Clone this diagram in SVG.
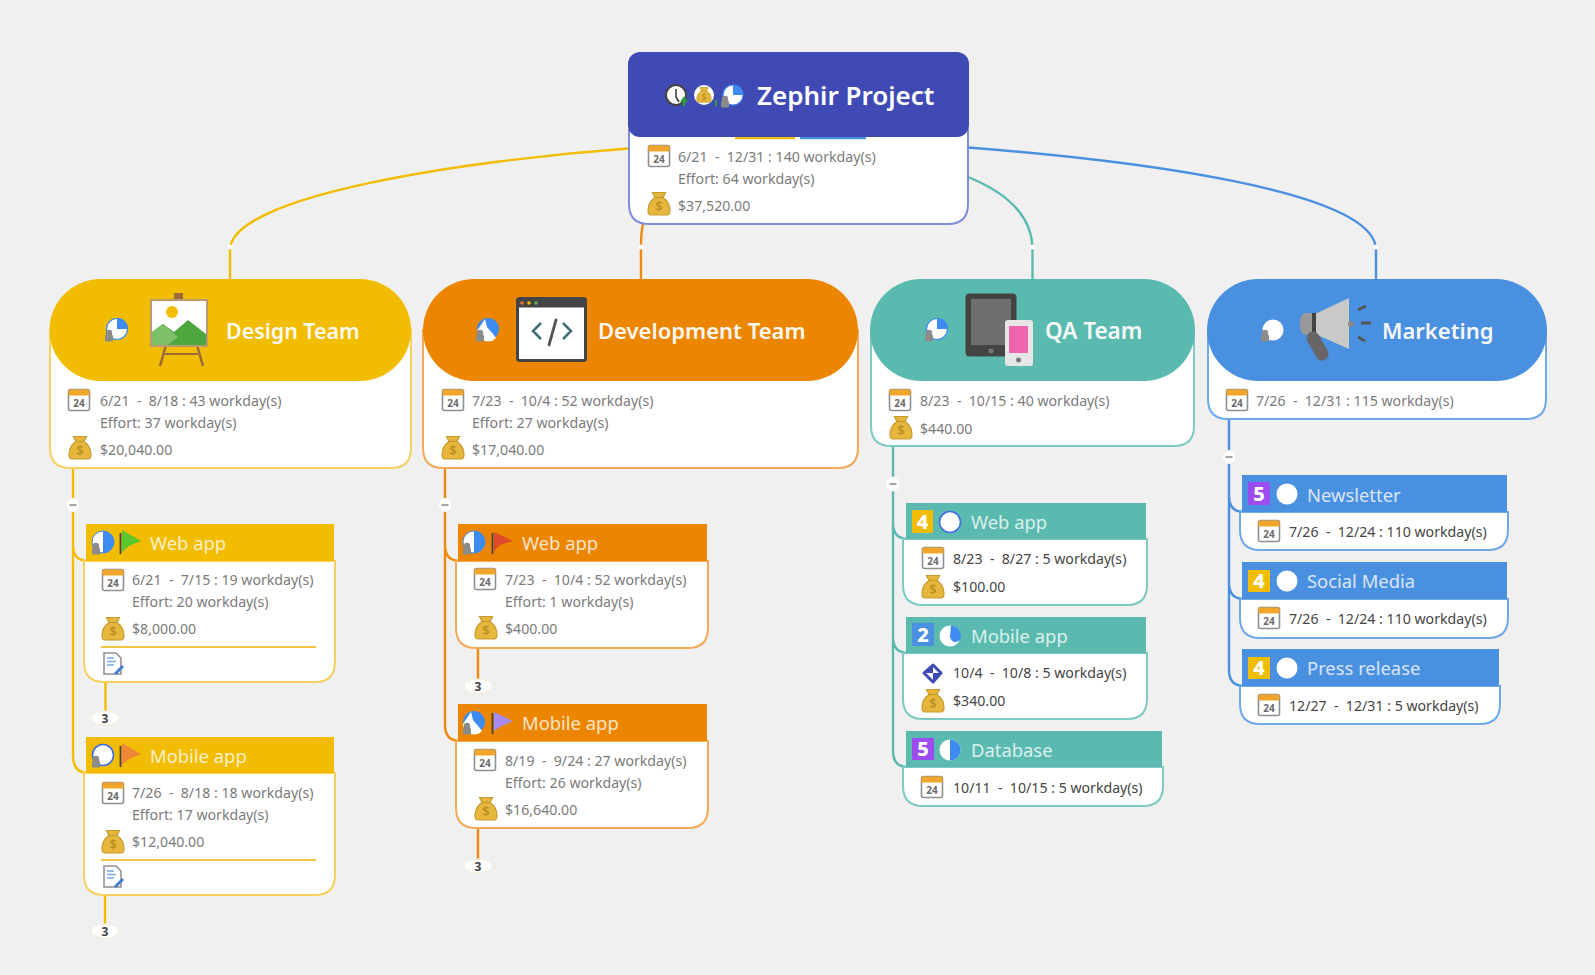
<svg xmlns="http://www.w3.org/2000/svg" width="1595" height="975" viewBox="0 0 1595 975">
<style>
text{font-family:"Noto Sans","Open Sans","Liberation Sans",sans-serif}
.t{font-size:14.15px;fill:#7b7b7b}
.d{font-size:14.15px;fill:#454545}
.hd{font-size:18.4px;fill:#fff;opacity:.78}
.big{font-size:22px;font-weight:600;fill:#fff;opacity:.95}
.cy{stroke:#F2BC00}.co{stroke:#EE8A0C}.ct{stroke:#5BBAB0}.cb{stroke:#4A90E0}
.ln{fill:none;stroke-width:2.4}
.by{fill:#fff;stroke:#F7D060;stroke-width:2}
.bo{fill:#fff;stroke:#F2A95A;stroke-width:2}
.bt{fill:#fff;stroke:#7CCAC1;stroke-width:2}
.bb{fill:#fff;stroke:#6FAAE8;stroke-width:2}
.bi{fill:#fff;stroke:#7F8ED8;stroke-width:2}
.fy{fill:#F2BC00}.fo{fill:#EC8600}.ft{fill:#5BBAB0}.fb{fill:#4A90E0}
.bub{fill:#fff;stroke:#f6efd8;stroke-width:1}
.n{font-size:12px;font-weight:700;fill:#444;text-anchor:middle}
.bn{font-size:20px;font-weight:800;fill:#fff;text-anchor:middle}
</style>
<defs>
<g id="cal"><rect x="-10.5" y="-10.5" width="21" height="21" rx="2" fill="#fff" stroke="#8f8f8f" stroke-width="1.6"/><path d="M-10.5,-10.5h21v6h-21z" fill="#EFA62A"/><text y="7" text-anchor="middle" font-size="10" font-weight="700" fill="#6b6b6b">24</text></g>
<g id="bag"><path d="M-6.5,-11.5h13l-2.5,5c5,3.5 7,8 7,13 0,2.500 -1,4.500 -3,4.500h-16c-2,0 -3,-2 -3,-4.500 0,-5 2,-9.500 7,-13z" fill="#E7B63C" stroke="#C59A2C" stroke-width="1.200"/><path d="M-4,-6.500h8" stroke="#C59A2C" stroke-width="1.200"/><text y="7" text-anchor="middle" font-size="13" font-weight="600" fill="#B98F25">$</text></g>
<g id="doc"><path d="M-9,-11h12l5,5v16h-17z" fill="#fff" stroke="#8f8f8f" stroke-width="1.500"/><path d="M-6,-6h7M-6,-2.500h9M-6,1h7" stroke="#7AA7DE" stroke-width="1.500"/><path d="M2,10l8,-8" stroke="#3F7FD0" stroke-width="3"/></g>
<g id="lock"><rect x="-4" y="-2" width="8" height="6.500" rx="1" fill="#8b8b8b"/><path d="M-2.500,-2v-2a2.500,2.500 0 0 1 5,0v2z" fill="#8b8b8b" stroke="#8b8b8b" stroke-width="1.300"/></g>
<circle id="disc" r="10.500" fill="#fff"/>
<g id="p-half"><circle r="11" fill="#fff" stroke="#3D8BF0" stroke-width="1"/><path d="M0,-11A11,11 0 0 1 0,11z" fill="#3D8BF0"/></g>
<g id="p-ring"><circle r="10.500" fill="#fff" stroke="#3D6FE0" stroke-width="1.600"/></g>
<g id="p-quarter"><circle r="10.500" fill="#fff" stroke="#3D8BF0" stroke-width="1.200"/><path d="M0,0V-11A11,11 0 0 1 11,0z" fill="#3D8BF0"/></g>
<g id="p-dev"><circle r="11" fill="#3D8BF0"/><path d="M-3,-10l2,8 6,7 3,4A11,11 0 0 1 -11,2z" fill="#fff"/></g>
<g id="p-two"><circle r="10.500" fill="#fff"/><path d="M1,-10.500A10.500,10.500 0 0 1 10.500,3C6,9 0,5 0,0z" fill="#3D8BF0"/></g>
<g id="p-five"><circle r="10.500" fill="#fff"/><path d="M0,-10.500A10.500,10.500 0 0 1 0,10.500z" fill="#3D8BF0"/></g>
<path id="flag" d="M0,-10V11" stroke="#444" stroke-width="1.800"/>
</defs>
<rect width="1595" height="975" fill="#F0F0F0"/>

<g id="connectors">
<path class="ln cy" d="M628,148.500C470,160 230,195 230,250V279"/>
<path class="ln co" d="M643,224C641,232 641,240 641,247V279"/>
<path class="ln ct" d="M968,177C1005,192 1032.500,215 1032.500,250V279"/>
<path class="ln cb" d="M968,147.500C1130,160 1376,190 1376,250V279"/>
<g fill="#fff"><circle cx="230" cy="247" r="2.500"/><circle cx="641" cy="247" r="2.500"/><circle cx="1032.500" cy="247" r="2.500"/><circle cx="1376" cy="247" r="2.500"/></g>
<path class="ln cy" d="M73,468V755Q73,773 88,773M73,545Q73,561 88,561"/>
<path class="ln cy" d="M105.500,682V712M105,895V925"/>
<path class="ln co" d="M445,468V725Q445,741 460,741M445,545Q445,561 460,561"/>
<path class="ln co" d="M478,648V680M478,828V860"/>
<path class="ln ct" d="M893,446V751Q893,767 908,767M893,523Q893,539 908,539M893,637Q893,653 908,653"/>
<path class="ln cb" d="M1229,419V670Q1229,686 1244,686M1229,496Q1229,512 1244,512M1229,583Q1229,599 1244,599"/>
<g fill="#fff" stroke="#f4f4f4"><circle cx="73" cy="505" r="6.500"/><circle cx="445" cy="505" r="6.500"/><circle cx="893" cy="484" r="7"/><circle cx="1229" cy="457" r="6.500"/></g>
<g stroke="#888" stroke-width="1.300"><path d="M69.500,505h7M441.500,505h7M889.500,484h7M1225.500,457h7"/></g>
<g class="bub"><ellipse cx="105" cy="718" rx="14" ry="7"/><ellipse cx="105" cy="931" rx="14" ry="7"/><ellipse cx="478" cy="686" rx="14" ry="7"/><ellipse cx="478" cy="866" rx="14" ry="7"/></g>
<text class="n" x="105" y="722.500">3</text><text class="n" x="105" y="935.500">3</text><text class="n" x="478" y="690.500">3</text><text class="n" x="478" y="870.500">3</text>
</g>

<g id="root">
<path class="bi" d="M629,130H968V204Q968,224 948,224H649Q629,224 629,204z"/>
<path class="ln cy" d="M735,138H795"/>
<path class="ln cb" d="M800,138H866"/>
<rect x="628" y="52" width="341" height="85" rx="12" fill="#3F4AB5"/>
<g transform="translate(676,95)"><circle r="10" fill="#fff" stroke="#444" stroke-width="2"/><path d="M0,-6V2L3,7" fill="none" stroke="#333" stroke-width="1.500"/><path d="M8,11V4M5,7l3,-4 3,4" stroke="#2E9E3A" stroke-width="2" fill="none"/></g>
<g transform="translate(704,95)"><circle r="10" fill="#fff"/><use href="#bag" transform="scale(.65)"/><path d="M12,11V5" stroke="#2E9E3A" stroke-width="2"/></g>
<g transform="translate(733,95)"><use href="#p-quarter" transform="scale(.95)"/><use href="#lock" x="-8" y="8"/></g>
<text x="757" y="105" font-size="26" font-weight="600" fill="#fff">Zephir Project</text>
<use href="#cal" x="659" y="156"/><use href="#bag" x="659" y="204"/>
<text class="t" x="678" y="162">6/21 &#160;-&#160; 12/31 : 140 workday(s)</text>
<text class="t" x="678" y="184">Effort: 64 workday(s)</text>
<text class="t" x="678" y="211">$37,520.00</text>
</g>

<g id="design-team">
<path class="by" d="M50,330H411V448Q411,468 391,468H70Q50,468 50,448z"/>
<rect x="49.500" y="279" width="361.500" height="102" rx="51" class="fy"/>
<g transform="translate(117,329)"><use href="#p-quarter"/><use href="#lock" x="-8" y="8"/></g>
<g id="easel"><path d="M160,366L166,345M197,345L203,366" stroke="#9A6A3A" stroke-width="2.500"/><path d="M165,354H198" stroke="#9A6A3A" stroke-width="2"/><rect x="174" y="293" width="9" height="8" fill="#9A6A3A"/><rect x="151" y="300" width="56" height="46" fill="#fff" stroke="#B99A70" stroke-width="2"/><circle cx="172" cy="312" r="6" fill="#F2BC00"/><path d="M152,345V332L163,324 174,332 188,320 206,334V345z" fill="#4EA63F"/><path d="M152,345V332L163,324 178,337 168,345z" fill="#7CC068"/></g>
<text class="big" x="226" y="339" font-size="21.400" style="font-size:21.400px">Design Team</text>
<use href="#cal" x="79" y="400"/><use href="#bag" x="80" y="448"/>
<text class="t" x="100" y="405.500">6/21 &#160;-&#160; 8/18 : 43 workday(s)</text>
<text class="t" x="100" y="427.500">Effort: 37 workday(s)</text>
<text class="t" x="100" y="454.500">$20,040.00</text>
</g>

<g id="development-team">
<path class="bo" d="M423,330H858V448Q858,468 838,468H443Q423,468 423,448z"/>
<rect x="423" y="279" width="435" height="102" rx="51" class="fo"/>
<g transform="translate(488,329)"><use href="#p-dev"/><use href="#lock" x="-8" y="8"/></g>
<rect x="517.500" y="298.500" width="68" height="62" rx="2" fill="#fff" stroke="#444" stroke-width="3"/><rect x="517.500" y="298.500" width="68" height="9" fill="#444"/><circle cx="522" cy="303" r="1.800" fill="#E0762A"/><circle cx="529" cy="303" r="1.800" fill="#F2BC00"/><circle cx="536" cy="303" r="1.800" fill="#5BB55B"/>
<path d="M541,323L533,331 541,339M563,323L571,331 563,339" fill="none" stroke="#3F7078" stroke-width="2.500"/><path d="M556,320L549,345" stroke="#555" stroke-width="2.800" stroke-linecap="round"/>
<text class="big" x="598" y="339">Development Team</text>
<use href="#cal" x="453" y="400"/><use href="#bag" x="453" y="448"/>
<text class="t" x="472" y="405.500">7/23 &#160;-&#160; 10/4 : 52 workday(s)</text>
<text class="t" x="472" y="427.500">Effort: 27 workday(s)</text>
<text class="t" x="472" y="454.500">$17,040.00</text>
</g>

<g id="qa-team">
<path class="bt" d="M871,330H1194V426Q1194,446 1174,446H891Q871,446 871,426z"/>
<rect x="870" y="279" width="325" height="102" rx="51" class="ft"/>
<g transform="translate(937,329)"><use href="#p-quarter"/><use href="#lock" x="-8" y="8"/></g>
<rect x="965.500" y="293.500" width="51" height="63" rx="4" fill="#444"/><rect x="971" y="299" width="40" height="46" fill="#6F6F6F"/><circle cx="991" cy="351" r="2.500" fill="#777"/>
<rect x="1005" y="320" width="28" height="46" rx="3" fill="#E6E6E6"/><rect x="1009" y="326" width="19" height="27" fill="#EE64AE"/><circle cx="1018.500" cy="360" r="2.500" fill="#777"/>
<text class="big" x="1045" y="339" style="font-size:22.500px">QA Team</text>
<use href="#cal" x="900" y="400"/><use href="#bag" x="901" y="428"/>
<text class="t" x="920" y="405.500">8/23 &#160;-&#160; 10/15 : 40 workday(s)</text>
<text class="t" x="920" y="433.500">$440.00</text>
</g>

<g id="marketing">
<path class="bb" d="M1208,330H1546V399Q1546,419 1526,419H1228Q1208,419 1208,399z"/>
<rect x="1207" y="279" width="340" height="102" rx="51" class="fb"/>
<g transform="translate(1273,330)"><use href="#disc"/><use href="#lock" x="-8" y="7"/></g>
<path d="M1315,314L1349,298V349L1315,334z" fill="#C9C9C9"/><path d="M1314,313H1306Q1300,313 1300,324 1300,335 1306,335H1314z" fill="#999"/><rect x="1312" y="313" width="4" height="22" fill="#444"/><path d="M1313,338L1322,354" stroke="#666" stroke-width="13" stroke-linecap="round"/><circle cx="1351" cy="324" r="3" fill="#888"/>
<path d="M1358,310L1366,306M1361,323H1371M1358,337L1365,341" stroke="#555" stroke-width="2.800" fill="none"/>
<text class="big" x="1382" y="339">Marketing</text>
<use href="#cal" x="1237" y="400"/>
<text class="t" x="1256" y="405.500">7/26 &#160;-&#160; 12/31 : 115 workday(s)</text>
</g>

<g id="design-web-app">
<path class="by" d="M84,561H335V662Q335,682 315,682H104Q84,682 84,662z"/>
<rect x="86" y="524" width="248" height="37" class="fy"/>
<g transform="translate(103,542)"><use href="#p-half"/><use href="#lock" x="-7" y="8"/></g>
<use href="#flag" x="120.500" y="543"/><path d="M122,530V552L129,546 141,541z" fill="#5BC62E"/>
<text class="hd" x="150" y="550">Web app</text>
<use href="#cal" x="113" y="580"/><use href="#bag" x="113" y="629"/>
<text class="t" x="132" y="585">6/21 &#160;-&#160; 7/15 : 19 workday(s)</text>
<text class="t" x="132" y="607">Effort: 20 workday(s)</text>
<text class="t" x="132" y="634">$8,000.00</text>
<path d="M101,647H316" stroke="#F2C440" stroke-width="2"/>
<use href="#doc" x="113" y="664"/>
</g>

<g id="design-mobile-app">
<path class="by" d="M84,773H335V875Q335,895 315,895H104Q84,895 84,875z"/>
<rect x="86" y="737" width="248" height="36" class="fy"/>
<g transform="translate(103,755)"><use href="#p-ring"/><use href="#lock" x="-7" y="8"/></g>
<use href="#flag" x="120.500" y="756"/><path d="M122,743V765L129,759 141,754z" fill="#F0883A"/>
<text class="hd" x="150" y="763">Mobile app</text>
<use href="#cal" x="113" y="793"/><use href="#bag" x="113" y="842"/>
<text class="t" x="132" y="798">7/26 &#160;-&#160; 8/18 : 18 workday(s)</text>
<text class="t" x="132" y="820">Effort: 17 workday(s)</text>
<text class="t" x="132" y="847">$12,040.00</text>
<path d="M101,860H316" stroke="#F2C440" stroke-width="2"/>
<use href="#doc" x="113" y="877"/>
</g>

<g id="dev-web-app">
<path class="bo" d="M456,561H708V628Q708,648 688,648H476Q456,648 456,628z"/>
<rect x="458" y="524" width="249" height="37" class="fo"/>
<g transform="translate(474,542)"><use href="#p-half"/><use href="#lock" x="-7" y="8"/></g>
<use href="#flag" x="492.500" y="543"/><path d="M494,532V551L500,545 513,541z" fill="#E04A2A"/>
<text class="hd" x="522" y="550">Web app</text>
<use href="#cal" x="485" y="579"/><use href="#bag" x="486" y="628"/>
<text class="t" x="505" y="585">7/23 &#160;-&#160; 10/4 : 52 workday(s)</text>
<text class="t" x="505" y="607">Effort: 1 workday(s)</text>
<text class="t" x="505" y="634">$400.00</text>
</g>

<g id="dev-mobile-app">
<path class="bo" d="M456,741H708V808Q708,828 688,828H476Q456,828 456,808z"/>
<rect x="458" y="704" width="249" height="37" class="fo"/>
<g transform="translate(474,722)"><use href="#p-dev"/><use href="#lock" x="-7" y="8"/></g>
<use href="#flag" x="492.500" y="723"/><path d="M494,712V731L500,727 513,721z" fill="#A78BEE"/>
<text class="hd" x="522" y="730">Mobile app</text>
<use href="#cal" x="485" y="760"/><use href="#bag" x="486" y="809"/>
<text class="t" x="505" y="766">8/19 &#160;-&#160; 9/24 : 27 workday(s)</text>
<text class="t" x="505" y="788">Effort: 26 workday(s)</text>
<text class="t" x="505" y="815">$16,640.00</text>
</g>

<g id="qa-web-app">
<path class="bt" d="M903,539H1147V585Q1147,605 1127,605H923Q903,605 903,585z"/>
<rect x="906" y="503" width="240" height="36" class="ft"/>
<rect x="912" y="510" width="21" height="23" fill="#F2BC00"/><text class="bn" x="922.500" y="529">4</text>
<use href="#p-ring" x="950" y="522"/>
<text class="hd" x="971" y="529">Web app</text>
<use href="#cal" x="933" y="558"/><use href="#bag" x="933" y="587"/>
<text class="d" x="953" y="564">8/23 &#160;-&#160; 8/27 : 5 workday(s)</text>
<text class="d" x="953" y="592">$100.00</text>
</g>

<g id="qa-mobile-app">
<path class="bt" d="M903,653H1147V699Q1147,719 1127,719H923Q903,719 903,699z"/>
<rect x="906" y="617" width="240" height="36" class="ft"/>
<rect x="912" y="623" width="22" height="23" fill="#4A90E0"/><text class="bn" x="923" y="642">2</text>
<use href="#p-two" x="950" y="636"/>
<text class="hd" x="971" y="643">Mobile app</text>
<path d="M933,665L941,673 933,682 924,673z" fill="#fff" stroke="#3F4AB5" stroke-width="3" stroke-linejoin="round"/><path d="M924,673L933,665V673z M933,682L941,673H933z" fill="#3F4AB5"/>
<use href="#bag" x="933" y="701"/>
<text class="d" x="953" y="678">10/4 &#160;-&#160; 10/8 : 5 workday(s)</text>
<text class="d" x="953" y="706">$340.00</text>
</g>

<g id="qa-database">
<path class="bt" d="M903,767H1163V786Q1163,806 1143,806H923Q903,806 903,786z"/>
<rect x="906" y="731" width="256" height="36" class="ft"/>
<rect x="912" y="738" width="22" height="22" fill="#9B4DF0"/><text class="bn" x="923" y="756">5</text>
<use href="#p-five" x="950" y="750"/>
<text class="hd" x="971" y="757">Database</text>
<use href="#cal" x="932" y="787"/>
<text class="d" x="953" y="793">10/11 &#160;-&#160; 10/15 : 5 workday(s)</text>
</g>

<g id="marketing-newsletter">
<path class="bb" d="M1240,512H1508V530Q1508,550 1488,550H1260Q1240,550 1240,530z"/>
<rect x="1242" y="475" width="265" height="37" class="fb"/>
<rect x="1248" y="482" width="22" height="23" fill="#9B4DF0"/><text class="bn" x="1259" y="501">5</text>
<use href="#disc" x="1287" y="494"/>
<text class="hd" x="1307" y="502">Newsletter</text>
<use href="#cal" x="1269" y="531"/>
<text class="d" x="1289" y="537">7/26 &#160;-&#160; 12/24 : 110 workday(s)</text>
</g>

<g id="marketing-social-media">
<path class="bb" d="M1240,599H1508V618Q1508,638 1488,638H1260Q1240,638 1240,618z"/>
<rect x="1242" y="562" width="265" height="37" class="fb"/>
<rect x="1248" y="570" width="22" height="22" fill="#F2BC00"/><text class="bn" x="1259" y="588">4</text>
<use href="#disc" x="1287" y="581"/>
<text class="hd" x="1307" y="588">Social Media</text>
<use href="#cal" x="1269" y="618"/>
<text class="d" x="1289" y="624">7/26 &#160;-&#160; 12/24 : 110 workday(s)</text>
</g>

<g id="marketing-press-release">
<path class="bb" d="M1240,686H1500V704Q1500,724 1480,724H1260Q1240,724 1240,704z"/>
<rect x="1242" y="649" width="257" height="37" class="fb"/>
<rect x="1248" y="657" width="22" height="22" fill="#F2BC00"/><text class="bn" x="1259" y="675">4</text>
<use href="#disc" x="1287" y="668"/>
<text class="hd" x="1307" y="675">Press release</text>
<use href="#cal" x="1269" y="705"/>
<text class="d" x="1289" y="711">12/27 &#160;-&#160; 12/31 : 5 workday(s)</text>
</g>
</svg>
